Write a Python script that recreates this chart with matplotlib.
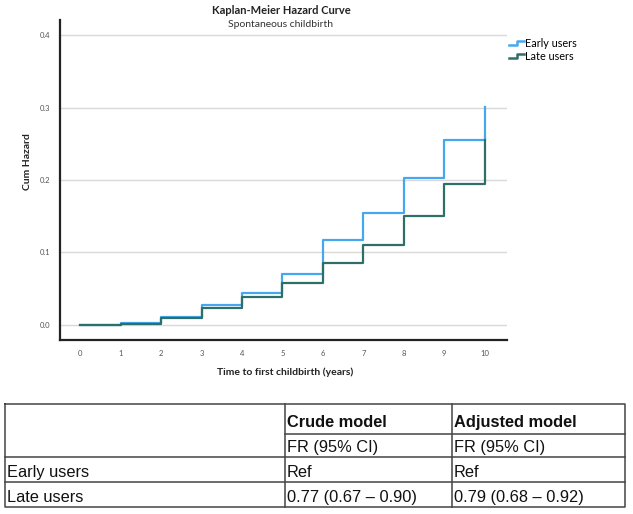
import matplotlib
matplotlib.use("Agg")
import matplotlib.pyplot as plt
from matplotlib.lines import Line2D
from matplotlib.legend_handler import HandlerBase

# ---- data ----
times = [0, 1, 2, 3, 4, 5, 6, 7, 8, 9, 10]
early_users = [0.0, 0.003, 0.011, 0.027, 0.044, 0.071, 0.117, 0.155, 0.203, 0.255, 0.301]
late_users = [0.0, 0.002, 0.010, 0.023, 0.038, 0.058, 0.086, 0.110, 0.151, 0.194, 0.255]
x_ticks = [0, 1, 2, 3, 4, 5, 6, 7, 8, 9, 10]
y_ticks = [0.0, 0.1, 0.2, 0.3, 0.4]
series_labels = ["Early users", "Late users"]

table_header1 = ["", "Crude model", "Adjusted model"]
table_header2 = ["", "FR (95% CI)", "FR (95% CI)"]
table_rows = [
    ["Early users", "Ref", "Ref"],
    ["Late users", "0.77 (0.67 \u2013 0.90)", "0.79 (0.68 \u2013 0.92)"],
]

C_EARLY = "#45a8ee"
C_LATE = "#2e6f67"

W, H = 633, 514
fig = plt.figure(figsize=(W / 100, H / 100), dpi=100)

def fx(px):
    return px / W

def fy(py):
    return 1 - py / H


class StepHandler(HandlerBase):
    def create_artists(self, legend, orig_handle, xdescent, ydescent,
                       width, height, fontsize, trans):
        x0, x1 = -xdescent, -xdescent + width
        xm = x0 + width * 0.55
        ylo = -ydescent + height * 0.25
        yhi = -ydescent + height * 0.75
        line = Line2D([x0, xm, xm, x1], [ylo, ylo, yhi, yhi],
                      color=orig_handle.get_color(), lw=orig_handle.get_linewidth(),
                      transform=trans)
        return [line]


# ---- chart axes ----
ax_l, ax_r, ax_t, ax_b = 60, 507, 20, 340
ax = fig.add_axes([fx(ax_l), fy(ax_b), fx(ax_r - ax_l), (ax_b - ax_t) / H])
ax.plot(times, early_users, drawstyle="steps-post", color=C_EARLY, lw=1.6, zorder=3)
ax.plot(times, late_users, drawstyle="steps-post", color=C_LATE, lw=1.6, zorder=4)
ax.set_xlim(-0.5, 10.55)
ax.set_ylim(-0.0207, 0.4207)
ax.set_xticks(x_ticks)
ax.set_yticks(y_ticks)
ax.set_yticklabels([f"{v:.1f}" for v in y_ticks])
for y in y_ticks:
    ax.axhline(y, color="#d9d9d9", lw=1.0, zorder=1)
for s in ["top", "right"]:
    ax.spines[s].set_visible(False)
for s in ["left", "bottom"]:
    ax.spines[s].set_linewidth(1.6)
    ax.spines[s].set_color("#222222")
ax.tick_params(length=0, labelsize=5.5, labelcolor="#555555", pad=7)
for lab in ax.get_xticklabels() + ax.get_yticklabels():
    lab.set_fontfamily("Lato")

fig.text(fx(281), fy(10), "Kaplan-Meier Hazard Curve", ha="center", va="center",
         fontsize=8, fontweight="bold", family="Lato", color="#222222")
fig.text(fx(281), fy(24), "Spontaneous childbirth", ha="center", va="center",
         fontsize=7.5, family="Lato", color="#333333")
fig.text(fx(28), fy(162), "Cum Hazard", ha="center", va="center", rotation=90,
         fontsize=7.5, fontweight="bold", family="Lato", color="#222222")
fig.text(fx(285), fy(372), "Time to first childbirth (years)", ha="center", va="center",
         fontsize=7.5, fontweight="bold", family="Lato", color="#222222")

handles = [Line2D([0], [0], color=C_EARLY, lw=1.8), Line2D([0], [0], color=C_LATE, lw=1.8)]
leg = fig.legend(handles, series_labels, loc="upper left",
                 bbox_to_anchor=(fx(509), fy(38)), frameon=False,
                 handlelength=1.4, handletextpad=0.05, labelspacing=0.2,
                 handler_map={Line2D: StepHandler()},
                 prop={"family": "Lato", "size": 7.8}, borderaxespad=0, borderpad=0)

# ---- table (drawn in figure pixel space) ----
tab = fig.add_axes([0, 0, 1, 1])
tab.set_xlim(0, W)
tab.set_ylim(H, 0)
tab.axis("off")

tl, tr = 5, 625
col_x = [5, 285, 452, 625]
row_y = [404, 434, 457, 482, 507]
lc = "#444444"
lw = 1.1
# outer box
tab.plot([tl, tr, tr, tl, tl], [row_y[0], row_y[0], row_y[-1], row_y[-1], row_y[0]], color=lc, lw=lw)
# vertical lines
for x in col_x[1:-1]:
    tab.plot([x, x], [row_y[0], row_y[-1]], color=lc, lw=lw)
# horizontal lines
tab.plot([col_x[1], tr], [row_y[1], row_y[1]], color=lc, lw=lw)
for y in row_y[2:-1]:
    tab.plot([tl, tr], [y, y], color=lc, lw=lw)

tfont = dict(family="Liberation Sans", fontsize=11.8, color="#111111")
pad = 2
for j in range(1, 3):
    tab.text(col_x[j] + pad, row_y[1] - 4, table_header1[j], ha="left", va="bottom",
             fontweight="bold", **tfont)
    tab.text(col_x[j] + pad, row_y[2] - 2, table_header2[j], ha="left", va="bottom", **tfont)
for i, row in enumerate(table_rows):
    for j in range(3):
        tab.text(col_x[j] + pad, row_y[i + 3] - 2, row[j], ha="left", va="bottom", **tfont)

fig.savefig("out.png", dpi=100)
